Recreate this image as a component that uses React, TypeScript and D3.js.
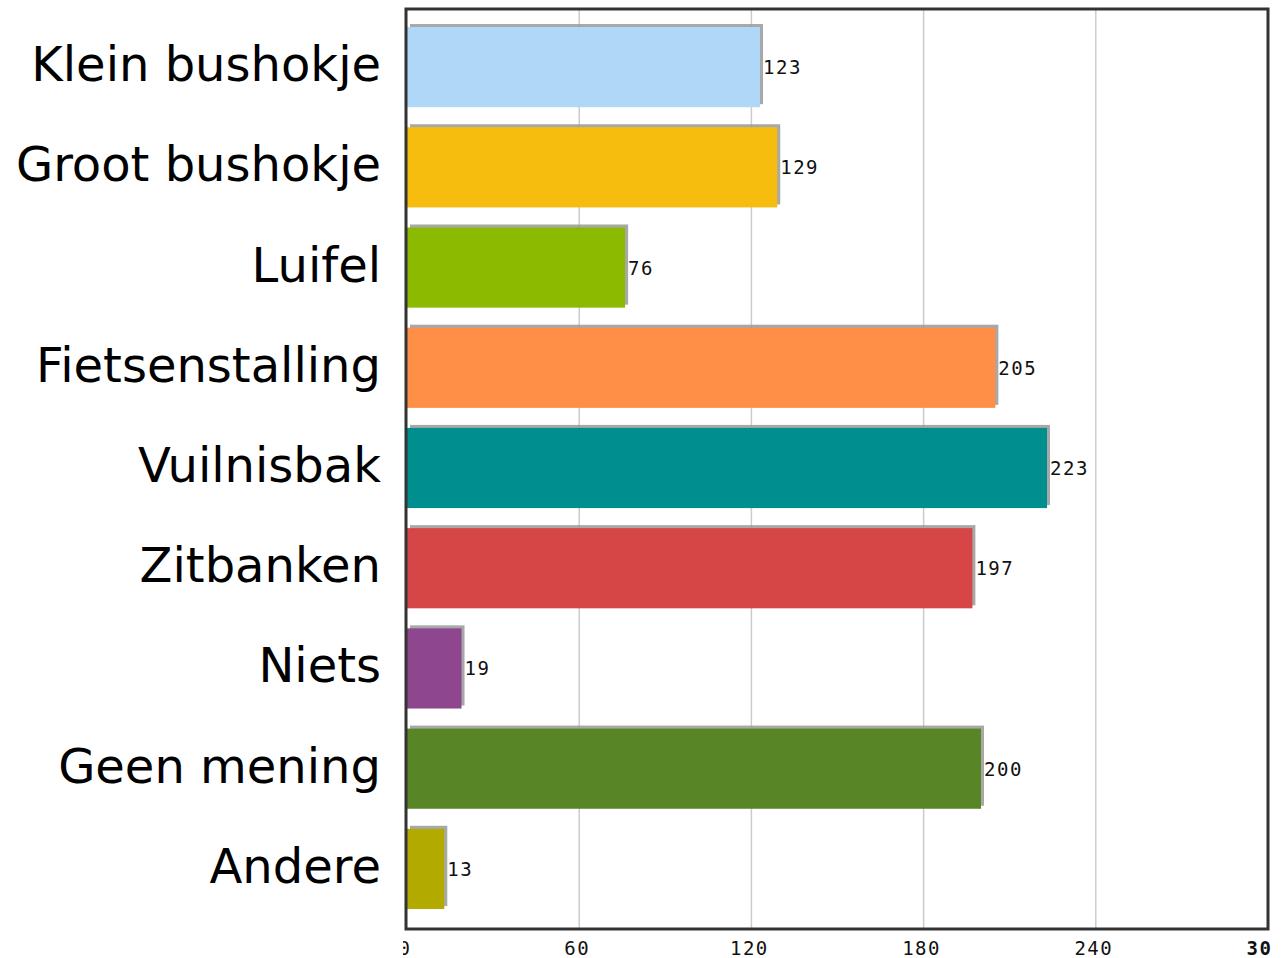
import React from "react";
import * as d3 from "d3";

// categories and counts
const categories = [
  "Klein bushokje",
  "Groot bushokje",
  "Luifel",
  "Fietsenstalling",
  "Vuilnisbak",
  "Zitbanken",
  "Niets",
  "Geen mening",
  "Andere",
];
const counts = [123, 129, 76, 205, 223, 197, 19, 200, 13];
const barColors = [
  "#afd8f8",
  "#f6bd0f",
  "#8bba00",
  "#ff8e46",
  "#008e8e",
  "#d64646",
  "#8e468e",
  "#588526",
  "#b3aa00",
];
const tickValues = [0, 60, 120, 180, 240, 300];

const W = 1283;
const H = 958;
const frame = { left: 407, top: 9, right: 1268, bottom: 929 };

export default function App() {
  const x = d3.scaleLinear().domain([0, 300]).range([frame.left, frame.right]);
  const y = d3
    .scaleBand<string>()
    .domain(categories)
    .range([17, 919])
    .paddingInner(0.2)
    .paddingOuter(0.1);

  const mono = "'DejaVu Sans Mono', monospace";

  return (
    <svg
      width={W}
      height={H}
      style={{ position: "absolute", left: 0, top: 0, background: "#fff" }}
    >
      <defs>
        {/* tick labels get cut off at both ends like in the original */}
        <clipPath id="tickClip">
          <rect x={403} y={930} width={1272 - 403} height={30} />
        </clipPath>
      </defs>

      {/* grid lines */}
      {tickValues.slice(1, -1).map((t) => (
        <line
          key={t}
          x1={x(t)}
          x2={x(t)}
          y1={frame.top}
          y2={frame.bottom}
          stroke="#cccccc"
          strokeWidth={1.5}
        />
      ))}

      {/* bars with a grey shadow up and to the right */}
      {categories.map((c, i) => {
        const y0 = y(c)!;
        const h = y.bandwidth();
        const w = x(counts[i]) - x(0);
        return (
          <g key={c}>
            <rect x={x(0) + 3} y={y0 - 3} width={w} height={h} fill="#999" opacity={0.85} />
            <rect x={x(0)} y={y0} width={w} height={h} fill={barColors[i]} />
            <text
              x={x(counts[i]) + 3}
              y={y0 + h / 2 + 7}
              fontFamily={mono}
              fontSize={19}
              letterSpacing={1.5}
              fill="#111"
            >
              {counts[i]}
            </text>
            <text
              x={381}
              y={y0 + h / 2 + 14}
              textAnchor="end"
              fontFamily="'DejaVu Sans', Verdana, sans-serif"
              fontSize={48}
              fill="#000"
            >
              {c}
            </text>
          </g>
        );
      })}

      {/* frame */}
      <rect
        x={frame.left - 1}
        y={frame.top}
        width={frame.right - frame.left + 1}
        height={frame.bottom - frame.top}
        fill="none"
        stroke="#333"
        strokeWidth={3}
      />

      {/* x tick labels */}
      <g clipPath="url(#tickClip)">
        {tickValues.map((t, i) => (
          <text
            key={t}
            x={x(t) - 2}
            y={955}
            textAnchor="middle"
            fontFamily={mono}
            fontSize={19}
            letterSpacing={1.5}
            fontWeight={i === tickValues.length - 1 ? "bold" : "normal"}
            fill="#111"
          >
            {t}
          </text>
        ))}
      </g>
    </svg>
  );
}
